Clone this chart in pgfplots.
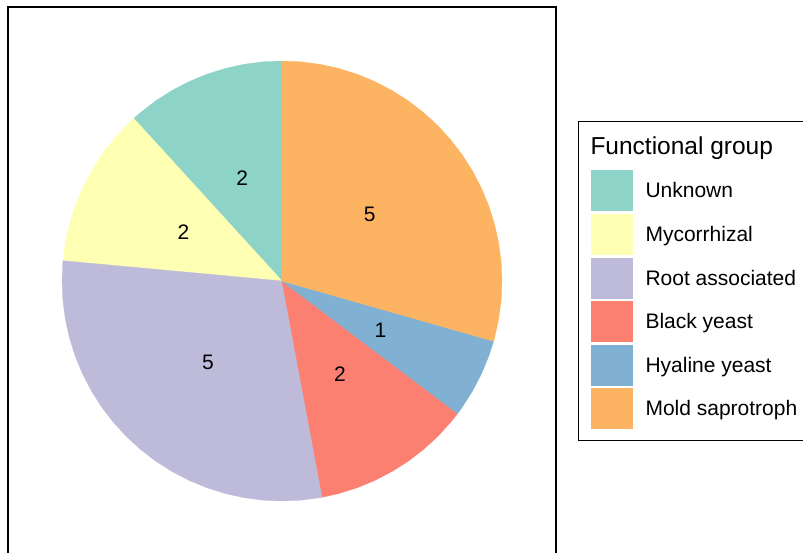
\documentclass[border=0pt]{standalone}
\usepackage{fontspec}
\setmainfont{Liberation Sans}
\usepackage{pgfplots}
\pgfplotsset{compat=1.18}
\definecolor{cUnk}{HTML}{8DD3C7}
\definecolor{cMyc}{HTML}{FFFFB3}
\definecolor{cRoot}{HTML}{BEBADA}
\definecolor{cBlack}{HTML}{FB8072}
\definecolor{cHya}{HTML}{80B1D3}
\definecolor{cMold}{HTML}{FDB462}
\begin{document}
\begin{tikzpicture}
\begin{axis}[
  scale only axis, width=548pt, height=548pt,
  at={(8pt,-3pt)}, anchor=south west,
  xmin=-1.2455, xmax=1.2455, ymin=-1.2455, ymax=1.2455,
  xtick=\empty, ytick=\empty,
  axis line style={line width=2pt},
  legend image code/.code={\fill[draw=none,#1] (0pt,-20.5pt) rectangle (42pt,20.5pt);},
  legend cell align=left,
  legend style={at={(1.04015,0.79197)}, anchor=north west,
    draw=black, line width=1pt, inner xsep=12pt, inner ysep=11pt,
    row sep=2.6pt, column sep=13pt, nodes={inner sep=0pt},
    font=\fontsize{21}{25}\selectfont},
]
% pie slices: (angle in degrees, radius); counts 2,2,5,2,1,5 of 17
\addplot[forget plot, fill=cUnk, draw=cUnk, line width=0.3pt, data cs=polar] coordinates {
(0,0) (-227.647,1) (-230,1) (-235,1) (-240,1) (-245,1) (-250,1) (-255,1) (-260,1) (-265,1) (-270,1)} -- cycle;
\addplot[forget plot, fill=cMyc, draw=cMyc, line width=0.3pt, data cs=polar] coordinates {
(0,0) (-185.294,1) (-190,1) (-195,1) (-200,1) (-205,1) (-210,1) (-215,1) (-220,1) (-225,1) (-227.647,1)} -- cycle;
\addplot[forget plot, fill=cRoot, draw=cRoot, line width=0.3pt, data cs=polar] coordinates {
(0,0) (-79.412,1) (-80,1) (-85,1) (-90,1) (-95,1) (-100,1) (-105,1) (-110,1) (-115,1) (-120,1) (-125,1) (-130,1) (-135,1) (-140,1) (-145,1) (-150,1) (-155,1) (-160,1) (-165,1) (-170,1) (-175,1) (-180,1) (-185,1) (-185.294,1)} -- cycle;
\addplot[forget plot, fill=cBlack, draw=cBlack, line width=0.3pt, data cs=polar] coordinates {
(0,0) (-37.059,1) (-40,1) (-45,1) (-50,1) (-55,1) (-60,1) (-65,1) (-70,1) (-75,1) (-79.412,1)} -- cycle;
\addplot[forget plot, fill=cHya, draw=cHya, line width=0.3pt, data cs=polar] coordinates {
(0,0) (-15.882,1) (-20,1) (-25,1) (-30,1) (-35,1) (-37.059,1)} -- cycle;
\addplot[forget plot, fill=cMold, draw=cMold, line width=0.3pt, data cs=polar] coordinates {
(0,0) (90,1) (85,1) (80,1) (75,1) (70,1) (65,1) (60,1) (55,1) (50,1) (45,1) (40,1) (35,1) (30,1) (25,1) (20,1) (15,1) (10,1) (5,1) (0,1) (-5,1) (-10,1) (-15,1) (-15.882,1)} -- cycle;
% slice labels
\node[font=\fontsize{21}{25}\selectfont] at (axis cs:-0.1807,0.4663) {2};
\node[font=\fontsize{21}{25}\selectfont] at (axis cs:-0.4476,0.2229) {2};
\node[font=\fontsize{21}{25}\selectfont] at (axis cs:-0.3369,-0.3695) {5};
\node[font=\fontsize{21}{25}\selectfont] at (axis cs:0.2632,-0.4251) {2};
\node[font=\fontsize{21}{25}\selectfont] at (axis cs:0.4476,-0.2229) {1};
\node[font=\fontsize{21}{25}\selectfont] at (axis cs:0.399,0.301) {5};
% legend
\addlegendimage{legend image code/.code={\path[draw=none] (0pt,-21.9pt) rectangle (42pt,13.5pt);}}
\addlegendentry{\hspace{-55pt}{\fontsize{24.5}{29}\selectfont Functional group}}
\addlegendimage{fill=cUnk}\addlegendentry{Unknown}
\addlegendimage{fill=cMyc}\addlegendentry{Mycorrhizal}
\addlegendimage{fill=cRoot}\addlegendentry{Root associated}
\addlegendimage{fill=cBlack}\addlegendentry{Black yeast}
\addlegendimage{fill=cHya}\addlegendentry{Hyaline yeast}
\addlegendimage{fill=cMold}\addlegendentry{Mold saprotroph}
\end{axis}
\pgfresetboundingbox
\useasboundingbox (0pt,0pt) rectangle (803pt,552pt);
\end{tikzpicture}
\end{document}
